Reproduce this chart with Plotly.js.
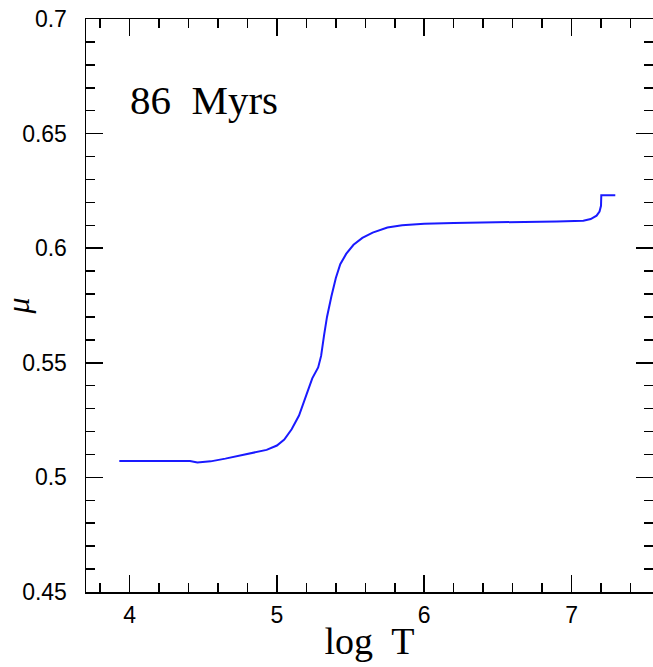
<!DOCTYPE html>
<html>
<head>
<meta charset="utf-8">
<script src="https://cdn.plot.ly/plotly-3.0.1.min.js"></script>
<style>html,body{margin:0;padding:0;background:#fff;overflow:hidden}</style>
</head>
<body>
<div id="chart" style="width:653px;height:667px"></div>
<script>
// Mean molecular weight mu vs log T
const logT = [3.93, 4.20, 4.41, 4.46, 4.55, 4.65, 4.75, 4.85, 4.93, 5.00, 5.05, 5.10, 5.15, 5.20, 5.24, 5.28, 5.30, 5.32, 5.34, 5.37, 5.40, 5.43, 5.47, 5.52, 5.58, 5.65, 5.75, 5.85, 6.00, 6.20, 6.50, 6.90, 7.08, 7.13, 7.17, 7.19, 7.20, 7.202, 7.297];
const mu   = [0.5072, 0.5072, 0.5072, 0.5065, 0.5070, 0.5082, 0.5096, 0.5107, 0.5120, 0.5139, 0.5165, 0.5210, 0.5270, 0.5360, 0.5432, 0.5480, 0.5530, 0.5620, 0.5700, 0.5790, 0.5870, 0.5930, 0.5975, 0.6015, 0.6045, 0.6068, 0.6090, 0.6100, 0.6107, 0.6110, 0.6112, 0.6117, 0.6120, 0.6127, 0.6142, 0.6160, 0.6185, 0.6231, 0.6231];
const xTickVals = [4, 5, 6, 7];
const yTickVals = [0.45, 0.5, 0.55, 0.6, 0.65, 0.7];
const yTickText = ["0.45", "0.5", "0.55", "0.6", "0.65", "0.7"];
const ageLabel = "86  Myrs";
const xLabel = "log  T";
const yLabel = "μ";

const axisCommon = {
  showline: true, linecolor: "black", linewidth: 1.5, mirror: "ticks",
  ticks: "inside", ticklen: 17, tickwidth: 1.5, tickcolor: "black",
  showgrid: false, zeroline: false,
  tickfont: {family: "Liberation Sans, Arial, sans-serif", size: 23, color: "black"}
};

const layout = {
  width: 653, height: 667,
  margin: {l: 86, r: 0, t: 19, b: 75, pad: 0},
  paper_bgcolor: "white", plot_bgcolor: "white",
  showlegend: false,
  xaxis: Object.assign({}, axisCommon, {
    range: [3.704, 7.553],
    tickmode: "array", tickvals: xTickVals,
    minor: {dtick: 0.2, tick0: 0, ticks: "inside", ticklen: 9, tickwidth: 1.5, tickcolor: "black", showgrid: false},
    ticklabelstandoff: 2,
    title: {text: xLabel, font: {family: "Liberation Serif, Times New Roman, serif", size: 38, color: "black"}, standoff: 0}
  }),
  yaxis: Object.assign({}, axisCommon, {
    range: [0.45, 0.7],
    tickmode: "array", tickvals: yTickVals, ticktext: yTickText,
    minor: {dtick: 0.01, tick0: 0, ticks: "inside", ticklen: 9, tickwidth: 1.5, tickcolor: "black", showgrid: false},
    ticklabelstandoff: 13,
    title: {text: "<i>" + yLabel + "</i>", font: {family: "Liberation Serif, Times New Roman, serif", size: 32, color: "black"}, standoff: 4}
  }),
  annotations: [{
    xref: "paper", yref: "paper", x: 0.0740, y: 0.8586,
    xanchor: "left", yanchor: "middle", showarrow: false,
    text: ageLabel,
    font: {family: "Liberation Serif, Times New Roman, serif", size: 41, color: "black"}
  }]
};

Plotly.newPlot("chart", [{
  x: logT, y: mu, type: "scatter", mode: "lines",
  line: {color: "#1a1aff", width: 2, shape: "linear"}
}], layout, {displayModeBar: false, staticPlot: true});
</script>
</body>
</html>
